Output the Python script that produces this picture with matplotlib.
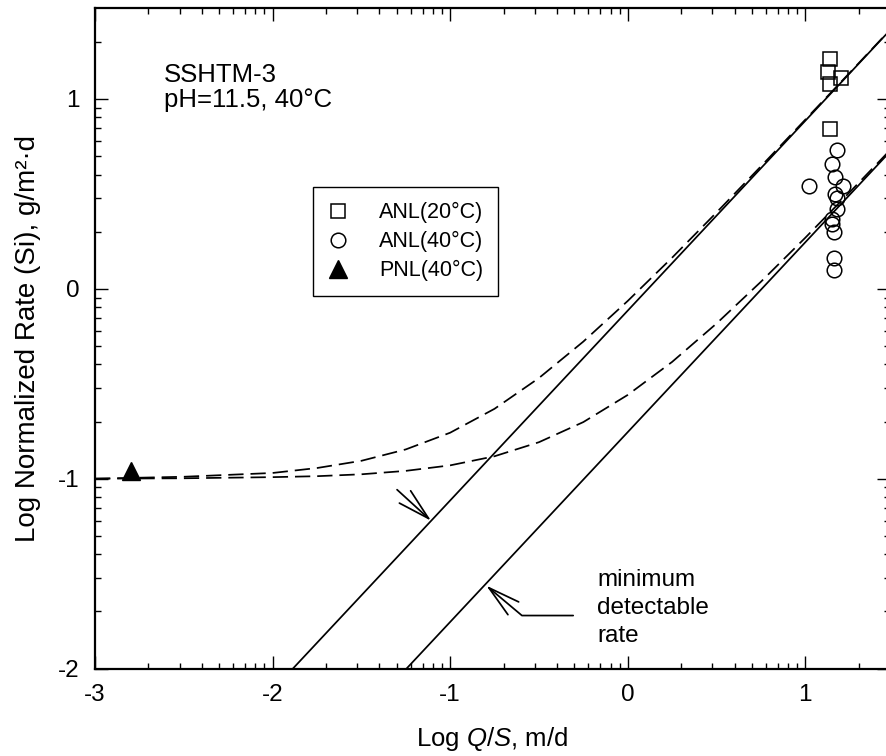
import numpy as np
import matplotlib
matplotlib.use("Agg")
import matplotlib.pyplot as plt

plt.rcParams['font.family'] = ['Liberation Sans', 'DejaVu Sans']
plt.rcParams['axes.unicode_minus'] = False
plt.rcParams['mathtext.fontset'] = 'custom'
plt.rcParams['mathtext.rm'] = 'Liberation Sans'
plt.rcParams['mathtext.it'] = 'Liberation Sans:italic'
plt.rcParams['lines.scale_dashes'] = False

# measured points (log Q/S, log rate)
anl20_x = [1.14, 1.13, 1.20, 1.14, 1.14]
anl20_y = [1.21, 1.14, 1.11, 1.08, 0.84]
anl40_x = [1.02, 1.18, 1.15, 1.17, 1.21, 1.17, 1.18, 1.18, 1.15, 1.15, 1.16, 1.16, 1.16]
anl40_y = [0.54, 0.73, 0.66, 0.59, 0.54, 0.50, 0.48, 0.42, 0.37, 0.34, 0.30, 0.16, 0.10]
pnl40_x = [-2.80]
pnl40_y = [-0.96]

# minimum detectable rate lines (end points)
mdr_upper_x = [-1.885, 1.477]
mdr_upper_y = [-2.0, 1.362]
mdr_lower_x = [-1.245, 1.477]
mdr_lower_y = [-2.0, 0.722]

# dashed curves
dash_x = [-3.0, -2.5, -2.0, -1.75, -1.5, -1.25, -1.0, -0.75, -0.5, -0.25,
          0.0, 0.25, 0.5, 0.75, 1.0, 1.25, 1.477]
dash_upper_y = [-1.00, -0.99, -0.97, -0.944, -0.906, -0.846, -0.758, -0.632, -0.470,
                -0.278, -0.064, 0.164, 0.402, 0.645, 0.891, 1.138, 1.364]
dash_lower_y = [-1.00, -0.998, -0.992, -0.987, -0.977, -0.959, -0.930, -0.882, -0.808,
                -0.702, -0.559, -0.385, -0.183, 0.037, 0.269, 0.509, 0.730]

xmin, xmax = -3, np.log10(30)
ymin, ymax = -2, np.log10(30)

fig = plt.figure(figsize=(8.86, 7.56), dpi=100)
ax = fig.add_axes([95 / 886, 87.5 / 756, 795 / 886, 660.1 / 756])

ax.plot(mdr_upper_x, mdr_upper_y, color='black', lw=1.25)
ax.plot(mdr_lower_x, mdr_lower_y, color='black', lw=1.25)
ax.plot(dash_x, dash_upper_y, color='black', lw=1.25, dashes=(11, 5))
ax.plot(dash_x, dash_lower_y, color='black', lw=1.25, dashes=(11, 5))

ax.plot(anl20_x, anl20_y, 's', ms=10.5, mfc='none', mec='black', mew=1.1,
        label='ANL(20°C)')
ax.plot(anl40_x, anl40_y, 'o', ms=10.5, mfc='none', mec='black', mew=1.1,
        label='ANL(40°C)')
ax.plot(pnl40_x, pnl40_y, '^', ms=13, color='black', label='PNL(40°C)')

# arrows
head = '->,head_length=2.3,head_width=0.6'
ax.annotate('', xy=(-1.107, -1.222), xytext=(-1.299, -1.058),
            arrowprops=dict(arrowstyle=head, lw=1.25, color='black',
                            shrinkA=0, shrinkB=0, mutation_scale=10))
ax.annotate('', xy=(-0.797, -1.563), xytext=(-0.307, -1.721),
            arrowprops=dict(arrowstyle=head, lw=1.25, color='black',
                            shrinkA=0, shrinkB=0, mutation_scale=10,
                            connectionstyle='angle,angleA=0,angleB=-40,rad=0'))
ax.text(-0.172, -1.475, 'minimum\ndetectable\nrate', fontsize=17.5,
        va='top', ha='left', linespacing=1.36)
ax.text(0.0868, 0.918, 'SSHTM-3\npH=11.5, 40°C', transform=ax.transAxes,
        fontsize=18.5, va='top', ha='left', linespacing=1.1)

ax.set_xlim(xmin, xmax)
ax.set_ylim(ymin, ymax)
ax.set_xticks([-3, -2, -1, 0, 1])
ax.set_yticks([-2, -1, 0, 1])
minor = [n + np.log10(k) for n in range(-3, 2) for k in range(2, 10)]
ax.set_xticks([v for v in minor if v < xmax], minor=True)
ax.set_yticks([v for v in minor if ymin < v < ymax], minor=True)
ax.tick_params(which='both', direction='in', top=True, right=True,
               labelsize=17.5, width=1.0)
ax.tick_params(which='major', length=9.5, pad=11)
ax.tick_params(which='minor', length=4.5)
for s in ax.spines.values():
    s.set_linewidth(1.6)

ax.set_xlabel('Log $Q$/$S$, m/d', fontsize=18.5, labelpad=14)
ax.set_ylabel('Log Normalized Rate (Si), g/m²·d', fontsize=20, labelpad=12)

leg = ax.legend(loc='upper left', bbox_to_anchor=(0.274, 0.729), fontsize=15.5,
                frameon=True, fancybox=False, edgecolor='black', framealpha=1,
                handlelength=1.0, handletextpad=1.4, borderpad=0.68,
                labelspacing=0.37, borderaxespad=0)
leg.get_frame().set_linewidth(1.0)

fig.savefig('out.png', dpi=100)
